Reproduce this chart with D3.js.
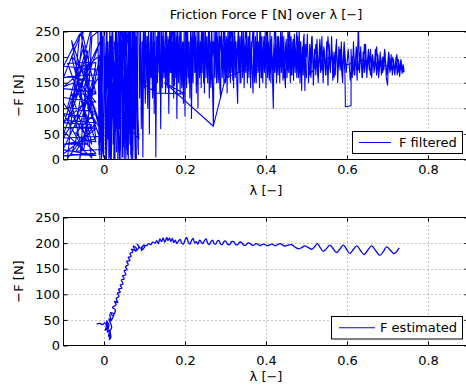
<!DOCTYPE html>
<html>
<head>
<meta charset="utf-8">
<script src="https://cdn.jsdelivr.net/npm/d3@7"></script>
<style>
  html, body { margin: 0; padding: 0; background: #fff; }
  svg { display: block; }
  text { font-family: "DejaVu Sans", sans-serif; font-size: 13px; fill: #000; }
</style>
</head>
<body>
<svg id="chart" width="466" height="391"></svg>
<script>
// ---------- data ----------
const xTicks = [0, 0.2, 0.4, 0.6, 0.8];
const yTicks = [0, 50, 100, 150, 200, 250];
const xDomain = [-0.1, 0.9];
const yDomain = [0, 250];
const titleText = "Friction Force F [N] over λ [−]";
const xLabelText = "λ [−]";
const yLabelText = "−F [N]";
const legendTop = "F filtered";
const legendBottom = "F estimated";

// F filtered : [lambda, -F]
const filteredPoints = [
[-0.12,140],[-0.02,132],[-0.1,72],[-0.03,68],[-0.09,2],[-0.06,245],[-0.1,182],[-0.02,176],[-0.08,10],[-0.02,8],
[-0.12,22],[-0.04,212],[-0.07,62],[-0.02,60],[-0.11,5],[-0.02,152],[-0.09,162],[-0.01,166],[-0.1,42],[0.0,46],
[-0.08,232],[-0.05,100],[-0.03,262],[-0.09,76],[-0.02,72],[-0.07,16],[0.0,20],[-0.06,150],[-0.02,112],[-0.11,122],
[-0.03,30],[-0.08,202],[-0.04,160],[-0.1,142],[-0.01,204],[-0.06,0],[-0.04,182],[-0.12,6],[-0.02,12],[-0.07,52],
[-0.02,92],[-0.09,102],[-0.05,222],[-0.02,40],[-0.1,30],[-0.04,30],[-0.08,128],[-0.02,128],[-0.06,270],[-0.03,80],
[-0.1,90],[-0.05,18],[-0.02,190],[-0.07,178],[-0.03,3],[-0.11,62],[-0.02,64],[-0.05,140],[-0.01,230],[-0.08,110],
[-0.06,38],[-0.02,35],[-0.09,188],[-0.03,190],[-0.07,120],[-0.05,260],[-0.1,160],[-0.05,164],[-0.01,60],[-0.04,100],
[-0.03,240],[-0.015,250],[-0.012,10],[-0.009,270],[-0.006,0],[-0.003,240],[-0.013,30],[-0.007,280],[-0.002,15],
[-0.014,200],[-0.01,0],[-0.005,260],[-0.008,40],[-0.001,5],
[0.0,250],[0.004,20],[0.008,270],[0.003,60],[0.01,230],[0.012,0],[0.015,280],[0.009,40],[0.018,210],[0.014,5],
[0.02,260],[0.016,80],[0.022,240],[0.025,10],[0.019,290],[0.027,30],[0.03,250],[0.024,0],[0.033,220],[0.028,50],
[0.036,270],[0.031,15],[0.038,200],[0.034,0],[0.04,280],[0.037,60],[0.043,230],[0.046,5],[0.041,260],[0.048,25],
[0.045,290],[0.05,0],[0.053,240],[0.047,70],[0.055,270],[0.058,10],[0.052,210],[0.06,0],[0.062,260],[0.057,40],
[0.065,280],[0.068,5],[0.063,230],[0.07,20],[0.073,250],[0.067,0],[0.075,270],[0.078,30],[0.072,220],[0.08,0],
[0.076,280],[0.083,50],[0.079,240],[0.085,10],[0.081,260],
[0.002,200],[0.006,0],[0.011,150],[0.005,260],[0.013,30],[0.017,240],[0.011,90],[0.021,270],[0.026,120],[0.023,30],
[0.029,280],[0.032,40],[0.026,230],[0.035,100],[0.039,260],[0.042,0],[0.036,170],[0.044,270],[0.049,60],[0.043,140],
[0.051,290],[0.056,20],[0.05,180],[0.059,250],[0.061,50],[0.064,180],[0.066,10],[0.069,260],[0.074,60],[0.071,280],
[0.077,110],[0.082,260],[0.084,20],[0.078,200],[0.086,40],
[0.001,120],[0.007,280],[0.004,0],[0.012,200],[0.016,0],[0.02,150],[0.018,0],[0.024,190],[0.027,0],[0.031,260],
[0.034,90],[0.038,0],[0.042,200],[0.046,130],[0.049,260],[0.054,0],[0.058,150],[0.061,280],[0.064,30],[0.068,200],
[0.071,0],[0.074,160],[0.077,0],[0.08,170],[0.083,270],
[0.086,250],[0.088,120],[0.09,270],[0.092,60],[0.094,230],[0.096,5],[0.098,260],[0.1,140],[0.102,280],[0.104,150],
[0.106,240],[0.108,100],[0.11,290],[0.112,50],[0.114,230],[0.116,160],[0.118,270],[0.12,130],[0.122,250],[0.124,90],
[0.126,280],[0.128,5],[0.13,240],[0.132,150],[0.134,260],[0.136,170],[0.138,290],[0.14,60],[0.142,250],[0.144,140],
[0.146,270],[0.148,160],[0.15,230],[0.152,130],[0.154,280],[0.156,150],[0.158,240],[0.16,90],[0.162,260],[0.164,170],
[0.166,290],[0.168,140],[0.17,230],[0.172,120],[0.174,270],[0.176,160],[0.178,250],[0.18,80],[0.182,280],[0.184,150],
[0.186,240],[0.188,130],[0.19,270],[0.192,170],[0.194,230],[0.196,110],[0.198,260],[0.2,85],[0.202,280],[0.204,140],
[0.206,250],[0.208,160],[0.21,230],[0.212,120],[0.214,270],[0.216,80],[0.218,250],[0.22,150],[0.222,290],[0.224,170],
[0.226,240],[0.228,130],[0.23,260],[0.232,100],[0.234,280],[0.236,160],[0.238,230],[0.24,140],[0.242,270],[0.244,170],
[0.246,250],[0.248,130],[0.25,280],[0.252,160],[0.254,240],[0.256,150],[0.258,260],[0.26,120],[0.262,230],[0.264,170],
[0.266,280],[0.268,140],[0.27,65],[0.272,250],[0.274,160],[0.276,270],[0.278,150],[0.28,240],[0.282,170],[0.284,260],
[0.286,140],[0.288,120],[0.29,280],[0.292,160],[0.294,230],[0.296,150],[0.298,270],[0.3,170],[0.302,240],[0.304,130],
[0.306,260],[0.308,160],[0.31,280],[0.312,150],[0.314,230],[0.316,170],[0.318,250],[0.32,140],[0.322,270],[0.324,160],
[0.326,230],[0.328,150],[0.33,110],[0.332,260],[0.334,170],[0.336,240],[0.338,150],[0.34,280],[0.342,160],[0.344,250],
[0.346,140],[0.348,230],[0.35,170],[0.352,260],[0.354,150],[0.356,240],[0.358,160],[0.36,270],[0.362,140],[0.364,230],
[0.366,170],[0.368,130],[0.37,250],[0.372,160],[0.374,240],[0.376,150],[0.378,270],[0.38,170],[0.382,230],[0.384,140],
[0.386,260],[0.388,160],[0.39,240],[0.392,150],[0.394,230],[0.396,170],[0.398,250],[0.4,140],[0.402,260],[0.404,160],
[0.406,230],[0.408,170],[0.41,250],[0.412,150],[0.414,240],[0.416,160],[0.418,100],[0.42,230],[0.422,170],[0.424,250],
[0.426,150],[0.428,240],[0.43,165],[0.432,230],[0.434,150],[0.436,250],[0.438,170],[0.44,225],[0.442,155],[0.444,240],
[0.446,165],[0.448,140],[0.45,235],[0.452,160],[0.454,250],[0.456,170],[0.458,225],[0.46,150],[0.462,240],[0.464,165],
[0.466,230],[0.468,155],[0.47,245],[0.472,170],[0.474,225],[0.476,160],[0.478,240],[0.48,170],[0.482,260],[0.484,150],
[0.486,230],[0.488,135],[0.49,220],[0.492,165],[0.494,245],[0.496,135],[0.498,225],[0.5,160],
[0.497,200],[0.493,240],[0.489,175],[0.485,230],[0.48,160],[0.476,250],[0.471,180],[0.467,235],[0.462,165],[0.458,260],
[0.453,175],[0.449,230],[0.444,160],[0.44,250],[0.435,180],[0.431,240],[0.426,160],[0.422,270],[0.417,175],[0.413,235],
[0.408,155],[0.404,250],[0.399,180],[0.395,240],[0.39,160],[0.386,270],[0.381,175],[0.377,230],[0.372,150],[0.368,260],
[0.363,180],[0.359,240],[0.354,160],[0.35,270],[0.345,175],[0.341,230],[0.336,150],[0.332,260],[0.327,180],[0.323,240],
[0.318,155],[0.314,280],[0.309,170],[0.305,235],[0.3,150],[0.296,260],[0.291,180],[0.287,240],[0.282,150],[0.278,270],
[0.273,175],[0.269,230],[0.264,140],[0.26,260],[0.255,180],[0.251,240],[0.246,150],[0.242,280],[0.237,170],[0.233,230],
[0.228,140],[0.224,260],[0.219,175],[0.215,240],[0.21,150],[0.206,270],[0.201,170],[0.197,230],[0.192,140],[0.188,260],
[0.183,175],[0.179,240],[0.174,145],[0.17,280],[0.165,170],[0.161,235],[0.156,140],[0.152,260],[0.147,170],[0.143,240],
[0.138,130],[0.134,270],[0.129,165],[0.125,230],[0.12,120],[0.116,260],[0.111,160],[0.107,240],[0.102,110],[0.098,270],
[0.093,150],[0.13,130],[0.2,128],[0.15,150],[0.27,65],[0.3,160],[0.4,190],[0.5,200],
[0.502,245],[0.505,150],[0.508,225],[0.511,160],[0.514,240],[0.517,145],[0.52,215],[0.523,165],[0.526,235],[0.529,150],
[0.532,220],[0.535,170],[0.538,240],[0.541,150],[0.544,215],[0.547,165],[0.55,230],[0.553,145],[0.556,225],[0.559,170],
[0.562,240],[0.565,155],[0.568,210],[0.571,165],[0.574,235],[0.577,150],[0.58,220],[0.583,175],[0.586,230],[0.589,150],
[0.592,215],[0.595,165],[0.596,103],[0.61,105],[0.61,215],[0.613,160],[0.616,230],[0.619,165],[0.622,205],[0.625,155],
[0.628,270],[0.631,170],[0.634,220],[0.637,160],[0.64,210],[0.643,170],[0.646,225],[0.649,160],[0.652,205],[0.655,175],
[0.658,215],[0.661,160],[0.664,200],[0.667,170],[0.67,215],[0.673,165],[0.676,205],[0.679,175],[0.682,210],[0.685,165],
[0.688,200],[0.691,175],[0.694,210],[0.697,160],[0.7,145],[0.703,200],[0.706,170],[0.709,205],[0.712,165],[0.715,195],
[0.718,170],[0.721,200],[0.724,165],[0.727,195],[0.73,162],[0.733,190],[0.736,168],[0.739,185],[0.741,172],
[0.737,175],[0.733,195],[0.728,170],[0.723,205],[0.718,165],[0.713,200],[0.708,175],[0.703,210],[0.698,165],[0.693,215],
[0.688,170],[0.683,200],[0.678,160],[0.673,220],[0.668,175],[0.663,205],[0.658,165],[0.653,215],[0.648,170],[0.643,225],
[0.638,160],[0.633,210],[0.628,175],[0.623,220],[0.618,165],[0.613,200],[0.608,155],[0.603,215],[0.598,170],[0.593,230],
[0.588,160],[0.583,215],[0.578,175],[0.573,225],[0.568,160],[0.563,215],[0.558,175],[0.553,240],[0.548,165],[0.543,220],
[0.538,175],[0.533,235],[0.528,160],[0.523,225],[0.518,170],[0.513,240],[0.508,165],
[0.53,190],[0.56,200],[0.6,185],[0.64,195],[0.68,185],[0.72,180],[0.735,176],[0.74,170]
];

// F estimated : [lambda, -F]
const estimatedPoints = [
[-0.018,42],[-0.01,43],[-0.004,41],[0.002,44],[0.006,38],[0.003,30],[0.009,34],[0.006,48],[0.012,40],[0.008,26],
[0.014,30],[0.011,18],[0.016,22],[0.013,12],[0.017,16],[0.015,28],[0.019,35],[0.012,52],[0.018,48],[0.014,60],
[0.018,50],[0.024,62],[0.016,64],[0.022,58],[0.028,70],[0.021,74],[0.03,80],[0.026,86],[0.034,84],[0.03,92],
[0.037,96],[0.033,102],[0.04,104],[0.036,110],[0.044,112],[0.04,118],[0.047,120],[0.043,128],[0.05,130],[0.046,136],
[0.054,138],[0.05,146],[0.057,148],[0.053,154],[0.06,158],[0.056,164],[0.064,166],[0.06,172],[0.067,174],[0.064,180],
[0.071,182],[0.068,188],[0.076,186],[0.072,194],[0.08,190],[0.078,184],[0.086,192],[0.082,198],[0.09,190],[0.095,194],
[0.092,186],[0.1,192],[0.097,196],[0.105,195],[0.11,199],[0.116,197],[0.12,202],[0.126,200],[0.13,205],
[0.134,199],[0.138,208],[0.142,203],[0.146,210],[0.15,202],[0.155,211],[0.158,205],[0.162,210],[0.165,203],[0.169,209],
[0.172,201],[0.176,206],[0.18,199],[0.184,204],[0.188,207],[0.192,200],[0.196,198],[0.2,206],[0.204,211],[0.208,202],
[0.212,198],[0.216,205],[0.22,209],[0.224,200],[0.228,203],[0.232,198],[0.236,206],[0.24,202],[0.244,199],[0.248,205],
[0.252,208],[0.256,200],[0.26,197],[0.264,203],[0.268,206],[0.272,199],[0.276,198],[0.28,204],[0.284,205],[0.288,198],
[0.292,197],[0.296,203],[0.3,204],[0.305,198],[0.31,197],[0.315,203],[0.32,203],[0.325,197],[0.33,197],[0.335,202],
[0.34,201],[0.345,196],[0.35,196],[0.355,200],[0.36,200],[0.365,196],[0.37,196],[0.375,199],[0.38,198],[0.385,195],
[0.39,197],[0.395,198],[0.4,196],[0.405,195],[0.41,197],[0.415,198],[0.42,196],[0.425,195],[0.43,198],[0.435,199],
[0.44,197],[0.445,194],[0.45,195],[0.455,196],[0.463,197],[0.472,192],[0.48,189],[0.488,191],[0.496,194.5],[0.505,191],
[0.513,188],[0.52,193],[0.527,199],[0.534,191],[0.541,184],[0.549,189],[0.558,196],[0.566,189],[0.574,181.6],[0.582,188],
[0.591,196],[0.599,188],[0.607,179.6],[0.615,187],[0.624,194.5],[0.633,186],[0.642,177.7],[0.651,186],[0.661,194.5],[0.671,185],
[0.681,176],[0.69,184],[0.698,192.6],[0.707,186],[0.716,179.6],[0.723,184],[0.729,190.6]
];

// ---------- drawing ----------
const svg = d3.select("#chart");
svg.append("rect").attr("width", 466).attr("height", 391).attr("fill", "#fff");

const X0 = 63.5, X1 = 468.5;

function panel(cfg) {
  const x = d3.scaleLinear().domain(xDomain).range([X0, X1]);
  const y = d3.scaleLinear().domain(yDomain).range([cfg.bottom, cfg.top]);
  const g = svg.append("g");
  const clipId = "clip" + cfg.id;
  svg.append("clipPath").attr("id", clipId)
    .append("rect").attr("x", X0).attr("y", cfg.top).attr("width", X1 - X0).attr("height", cfg.bottom - cfg.top);

  // grid
  const grid = g.append("g").attr("stroke", "#8c8c8c").attr("stroke-width", 1).attr("stroke-dasharray", "1,3");
  grid.selectAll("line.gx").data(xTicks).join("line")
    .attr("x1", d => Math.round(x(d)) + 0.5).attr("x2", d => Math.round(x(d)) + 0.5)
    .attr("y1", cfg.top).attr("y2", cfg.bottom);
  grid.selectAll("line.gy").data(yTicks.filter(v => v > 0 && v < 250)).join("line")
    .attr("y1", d => Math.round(y(d)) + 0.5).attr("y2", d => Math.round(y(d)) + 0.5)
    .attr("x1", X0).attr("x2", X1);

  // data
  const line = d3.line().x(d => x(d[0])).y(d => y(d[1])).curve(cfg.curve);
  g.append("path").datum(cfg.data)
    .attr("clip-path", `url(#${clipId})`)
    .attr("fill", "none").attr("stroke", "#0000ff").attr("stroke-width", cfg.lw)
    .attr("stroke-linejoin", "round")
    .attr("d", line);

  // axes (ticks inside)
  const ax = g.append("g").attr("transform", `translate(0,${cfg.bottom})`)
    .call(d3.axisBottom(x).tickValues(xTicks).tickSizeInner(-4).tickSizeOuter(0).tickPadding(cfg.xpad)
      .tickFormat(d => d === 0 ? "0" : d3.format(".1f")(d)));
  const ay = g.append("g").attr("transform", `translate(${X0},0)`)
    .call(d3.axisLeft(y).tickValues(yTicks).tickSizeInner(-4).tickSizeOuter(0).tickPadding(3.5));
  const at = g.append("g").attr("transform", `translate(0,${cfg.top})`)
    .call(d3.axisTop(x).tickValues(xTicks).tickSizeInner(-4).tickSizeOuter(0).tickFormat(""));
  const ar = g.append("g").attr("transform", `translate(${X1},0)`)
    .call(d3.axisRight(y).tickValues(yTicks).tickSizeInner(-4).tickSizeOuter(0).tickFormat(""));
  [ax, ay, at, ar].forEach(a => {
    a.select(".domain").remove();
    a.selectAll("text").attr("font-family", "DejaVu Sans").attr("font-size", 13).attr("fill", "#000");
    a.selectAll("line").attr("stroke", "#000");
  });

  // box
  g.append("rect").attr("x", X0).attr("y", cfg.top).attr("width", X1 - X0).attr("height", cfg.bottom - cfg.top)
    .attr("fill", "none").attr("stroke", "#000").attr("stroke-width", 1);

  // labels
  g.append("text").attr("x", (X0 + X1) / 2).attr("y", cfg.xlabY).attr("text-anchor", "middle").text(xLabelText);
  g.append("text").attr("transform", `translate(23.3,${(cfg.top + cfg.bottom) / 2}) rotate(-90)`)
    .attr("text-anchor", "middle").text(yLabelText);

  // legend
  const L = cfg.legend;
  g.append("rect").attr("x", L.x).attr("y", L.y).attr("width", L.w).attr("height", L.h)
    .attr("fill", "#fff").attr("stroke", "#000").attr("stroke-width", 1);
  g.append("line").attr("x1", L.lx1).attr("x2", L.lx2).attr("y1", L.y + L.h / 2).attr("y2", L.y + L.h / 2)
    .attr("stroke", "#0000ff").attr("stroke-width", 1);
  g.append("text").attr("x", L.tx).attr("y", L.y + L.h / 2 + 4.7).text(L.label);
}

svg.append("text").attr("x", 266).attr("y", 19).attr("text-anchor", "middle").text(titleText);

panel({
  id: "top", top: 31.5, bottom: 159.5, data: filteredPoints, curve: d3.curveLinear, lw: 1.1, xpad: 5.5, xlabY: 195,
  legend: { x: 352.5, y: 131.5, w: 110, h: 22, lx1: 359, lx2: 391, tx: 399, label: legendTop }
});
panel({
  id: "bot", top: 217.5, bottom: 345.5, data: estimatedPoints, curve: d3.curveCatmullRom, lw: 1.3, xpad: 10.5, xlabY: 381,
  legend: { x: 331.5, y: 316.5, w: 131, h: 22.5, lx1: 339, lx2: 375, tx: 380, label: legendBottom }
});
</script>
</body>
</html>
